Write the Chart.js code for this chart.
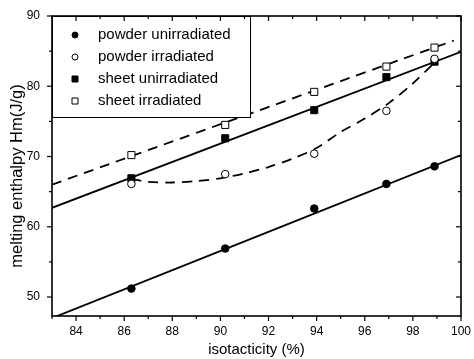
<!DOCTYPE html>
<html>
<head>
<meta charset="utf-8">
<script src="https://cdn.jsdelivr.net/npm/chart.js@4/dist/chart.umd.min.js"></script>
<style>
  html, body { margin: 0; padding: 0; background: #fff; }
  #wrap { width: 474px; height: 359px; }
</style>
</head>
<body>
<div id="wrap"><canvas id="enthalpyChart" width="474" height="359"></canvas></div>
<script>
// measured points
const isotacticity = [86.3, 90.2, 93.9, 96.9, 98.9];
const powderUnirr = [51.2, 56.9, 62.6, 66.1, 68.6];
const powderIrr = [66.1, 67.5, 70.4, 76.5, 83.9];
const sheetUnirr = [66.9, 72.6, 76.6, 81.3, 83.5];
const sheetIrr = [70.2, 74.5, 79.2, 82.8, 85.5];

// fit lines
const fitX = [83, 100];
const powderUnirrFit = [47.0, 70.2];
const sheetUnirrFit = [62.7, 84.9];
const sheetIrrFitX = [83, 99.7];
const sheetIrrFit = [66.0, 86.5];
const powderIrrCurveX = [86.3, 87, 88, 89, 90, 91, 92, 93, 94, 95, 96, 97, 98, 99];
const powderIrrCurve = [66.8, 66.4, 66.3, 66.5, 66.9, 67.6, 68.5, 69.7, 71.2, 73.5, 75.4, 77.6, 80.4, 83.7];

const xTickLabels = [84, 86, 88, 90, 92, 94, 96, 98, 100];
const yTickLabels = [50, 60, 70, 80, 90];
const yTitle = 'melting enthalpy Hm(J/g)';

const FONT = 'Liberation Sans, Arial, sans-serif';
const pts = (xs, ys) => xs.map((v, i) => ({x: v, y: ys[i]}));

const markers = (label, ys, style, filled) => ({
  label: label,
  data: pts(isotacticity, ys),
  showLine: false,
  pointStyle: style,
  pointRadius: style === 'rect' ? 5 : 3.8,
  pointBackgroundColor: filled ? '#000' : '#fff',
  pointBorderColor: '#000',
  pointBorderWidth: 1,
  inLegend: true,
  order: 0
});

const fitLine = (xs, ys, dashed) => ({
  data: pts(xs, ys),
  showLine: true,
  pointRadius: 0,
  borderColor: '#000',
  borderWidth: 1.8,
  borderDash: dashed ? [10, 7] : [],
  tension: 0.3,
  order: 1
});

// tick marks + frame: outward on left/bottom, inward on top/right
const frameTicks = {
  id: 'frameTicks',
  afterDraw(chart) {
    const {ctx, chartArea: a, scales: {x, y}} = chart;
    const seg = (x1, y1, x2, y2) => { ctx.beginPath(); ctx.moveTo(x1, y1); ctx.lineTo(x2, y2); ctx.stroke(); };
    ctx.save();
    ctx.strokeStyle = '#000';
    ctx.lineWidth = 1.2;
    x.ticks.forEach(t => {
      if (Math.abs(t.value - Math.round(t.value)) > 1e-6) return;
      const px = x.getPixelForValue(t.value);
      const len = xTickLabels.includes(t.value) ? 5 : 3;
      seg(px, a.bottom, px, a.bottom + len);
      seg(px, a.top, px, a.top + len);
    });
    y.ticks.forEach(t => {
      if (Math.abs(t.value / 5 - Math.round(t.value / 5)) > 1e-6) return;
      const py = y.getPixelForValue(t.value);
      const len = yTickLabels.includes(t.value) ? 5 : 3;
      seg(a.left, py, a.left - len, py);
      seg(a.right, py, a.right - len, py);
    });
    ctx.lineWidth = 1.6;
    ctx.strokeRect(a.left, a.top, a.right - a.left, a.bottom - a.top);

    // y title sits a little below the middle of the axis in the original
    ctx.translate(17, (a.top + a.bottom) / 2 + 10);
    ctx.rotate(-Math.PI / 2);
    ctx.fillStyle = '#000';
    ctx.font = '16.5px ' + FONT;
    ctx.textAlign = 'center';
    ctx.textBaseline = 'middle';
    ctx.fillText(yTitle, 0, 0);
    ctx.restore();
  }
};

// boxed legend sitting over the top-left corner of the plot
const boxLegend = {
  id: 'boxLegend',
  afterDatasetsDraw(chart) {
    const {ctx, chartArea: a} = chart;
    const items = chart.data.datasets.filter(d => d.inLegend);
    const w = 198, h = 101;
    ctx.save();
    ctx.fillStyle = '#fff';
    ctx.fillRect(a.left, a.top, w, h);
    ctx.strokeStyle = '#000';
    ctx.lineWidth = 1;
    ctx.strokeRect(a.left + 0.5, a.top + 0.5, w, h);
    ctx.font = '15px ' + FONT;
    ctx.textBaseline = 'middle';
    items.forEach((d, i) => {
      const cy = a.top + 19 + i * 22;
      const cx = a.left + 23;
      ctx.fillStyle = d.pointBackgroundColor;
      ctx.strokeStyle = '#000';
      ctx.lineWidth = 1;
      ctx.beginPath();
      if (d.pointStyle === 'rect') ctx.rect(cx - 3, cy - 3, 6, 6);
      else ctx.arc(cx, cy, 3, 0, Math.PI * 2);
      ctx.fill();
      ctx.stroke();
      ctx.fillStyle = '#000';
      ctx.fillText(d.label, a.left + 46, cy);
    });
    ctx.restore();
  }
};

new Chart(document.getElementById('enthalpyChart'), {
  type: 'scatter',
  data: {
    datasets: [
      markers('powder unirradiated', powderUnirr, 'circle', true),
      markers('powder irradiated', powderIrr, 'circle', false),
      markers('sheet unirradiated', sheetUnirr, 'rect', true),
      markers('sheet irradiated', sheetIrr, 'rect', false),
      fitLine(fitX, powderUnirrFit, false),
      fitLine(fitX, sheetUnirrFit, false),
      fitLine(sheetIrrFitX, sheetIrrFit, true),
      fitLine(powderIrrCurveX, powderIrrCurve, true)
    ]
  },
  options: {
    responsive: false,
    animation: false,
    layout: { padding: { top: 16, right: 9, left: 0, bottom: 0 } },
    plugins: { legend: { display: false }, tooltip: { enabled: false } },
    scales: {
      x: {
        type: 'linear',
        min: 83, max: 100,
        afterFit: s => { s.height = 43; },
        grid: { display: false, drawTicks: true, tickLength: 5 },
        border: { display: false },
        ticks: {
          stepSize: 1, autoSkip: false, maxRotation: 0, padding: 3,
          color: '#000', font: { family: FONT, size: 12 },
          callback: v => xTickLabels.includes(v) ? v : ''
        },
        title: { display: true, text: 'isotacticity (%)', color: '#000',
                 font: { family: FONT, size: 15 }, padding: { top: 0, bottom: 0 } }
      },
      y: {
        min: 47.3, max: 90,
        afterFit: s => { s.width = 52; },
        grid: { display: false, drawTicks: true, tickLength: 5 },
        border: { display: false },
        ticks: {
          stepSize: 5, padding: 7,
          color: '#000', font: { family: FONT, size: 12 },
          callback: v => yTickLabels.includes(v) ? v : ''
        },
        title: { display: false }
      }
    }
  },
  plugins: [frameTicks, boxLegend]
});
</script>
</body>
</html>
